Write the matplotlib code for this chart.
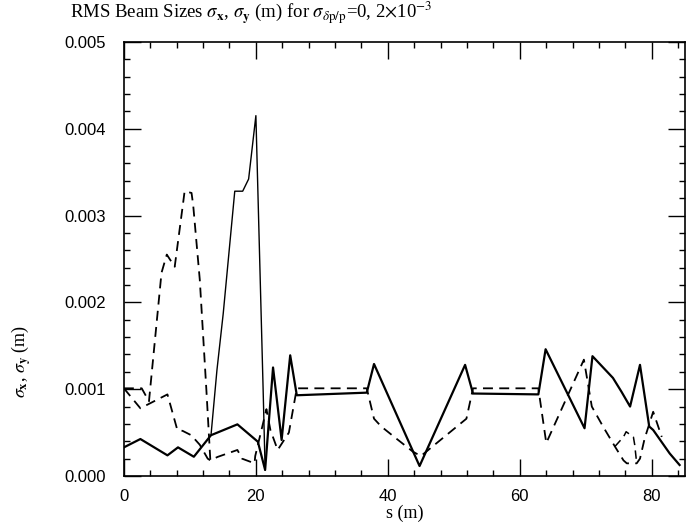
import matplotlib
matplotlib.use("Agg")
import matplotlib.pyplot as plt
from matplotlib.ticker import MultipleLocator, FormatStrFormatter

plt.rcParams['mathtext.fontset'] = 'stix'

# sigma_x (main solid curve)
sx_s = [0, 2.5, 6.6, 8.2, 10.6, 13.2, 17.2, 20.3, 21.4, 22.6, 23.9, 25.2, 26.2,
        36.8, 37.9, 44.8, 51.7, 52.9, 62.8, 63.9, 69.8, 71.0, 74.1, 75.4, 76.7,
        78.2, 79.6, 80.2, 82.7, 84.2]
sx_v = [0.00033, 0.000426, 0.000238, 0.00033, 0.000222, 0.00047, 0.000595, 0.000395,
        0.00007, 0.00125, 0.000415, 0.00139, 0.00093, 0.00096, 0.00129, 0.000115,
        0.00128, 0.00095, 0.00094, 0.00146, 0.00055, 0.00138, 0.00113, 0.00097,
        0.0008, 0.00128, 0.00057, 0.00053, 0.00026, 0.000127]

# sigma_x branch for the second energy spread (thin solid)
sx2_s = [13.2, 14.1, 15.05, 16.8, 18.0, 18.9, 20.0, 21.1, 21.4]
sx2_v = [0.00047, 0.00122, 0.00187, 0.00328, 0.00328, 0.00342, 0.00415, 0.00099, 0.00007]

# sigma_y (main dashed curve)
sy_s = [0, 2.5, 6.6, 8.1, 8.9, 10.2, 11.5, 12.7, 13.1, 14.2, 17.2, 17.9, 19.8, 19.9,
        21.6, 22.2, 23.3, 25.0, 26.2, 36.8, 37.9, 39.0, 41.3, 43.8, 45.0, 51.9, 52.9,
        62.8, 64.0, 69.7, 70.9, 72.6, 74.4, 75.7, 76.2, 77.7, 78.2, 78.9, 80.2, 81.5]
sy_v = [0.00101, 0.00078, 0.00094, 0.00053, 0.00052, 0.00047, 0.00036, 0.0002, 0.00018,
        0.00022, 0.0003, 0.0002, 0.000146, 0.00023, 0.00077, 0.00053, 0.0003, 0.0005,
        0.00101, 0.00101, 0.00066, 0.00057, 0.00043, 0.00028, 0.00023, 0.00066, 0.00101,
        0.00101, 0.00038, 0.00134, 0.0008, 0.00057, 0.00034, 0.00018, 0.000146, 0.000146,
        0.0002, 0.00043, 0.00074, 0.00045]

# sigma_y branches for the second energy spread
sy2a_s = [0, 2.7, 3.8, 4.3, 5.7, 6.5, 7.7, 9.0, 9.2, 10.25, 10.5, 11.5, 12.5, 13.1]
sy2a_v = [0.00101, 0.00101, 0.00086, 0.00125, 0.00234, 0.00255, 0.00241, 0.00316,
          0.00328, 0.00326, 0.00312, 0.00226, 0.00099, 0.00018]
sy2b_s = [74.4, 75.7, 76.1, 77.2, 77.4, 77.7]
sy2b_v = [0.00034, 0.00045, 0.00051, 0.00045, 0.00036, 0.000146]

x_ticks = [0, 20, 40, 60, 80]
y_ticks = [0.000, 0.001, 0.002, 0.003, 0.004, 0.005]

fig = plt.figure(figsize=(6.96, 5.25), dpi=100)
ax = fig.add_axes([0.178, 0.0933, 0.806, 0.827])

dash = (5.5, 3.5)
ax.plot(sx_s, sx_v, color='black', lw=1.6)
ax.plot(sx2_s, sx2_v, color='black', lw=1.0)
ax.plot(sy_s, sy_v, color='black', lw=1.3, dashes=dash)
ax.plot(sy2a_s, sy2a_v, color='black', lw=1.3, dashes=dash)
ax.plot(sy2b_s, sy2b_v, color='black', lw=1.1, dashes=dash)

ax.set_xlim(0, 85)
ax.set_ylim(0, 0.005)
ax.set_xticks(x_ticks)
ax.set_yticks(y_ticks)
ax.xaxis.set_minor_locator(MultipleLocator(4))
ax.yaxis.set_minor_locator(MultipleLocator(0.0002))
ax.yaxis.set_major_formatter(FormatStrFormatter('%.3f'))

ax.tick_params(which='both', direction='in', top=True, right=True, width=1.0)
ax.tick_params(which='major', length=12)
ax.tick_params(which='minor', length=4)
ax.tick_params(axis='y', which='major', pad=13)
ax.tick_params(axis='x', which='major', pad=9)
for lab in ax.get_xticklabels() + ax.get_yticklabels():
    lab.set_fontfamily('Liberation Sans')
    lab.set_fontsize(12)
for sp in ax.spines.values():
    sp.set_linewidth(1.2)

ax.set_xlabel('s (m)', fontfamily='Liberation Serif', fontsize=13, labelpad=1)
fig.text(0.03, 1 - 362 / 525, r'$\sigma_\mathbf{x}$, $\sigma_\mathbf{y}$ (m)',
         rotation=90, ha='center', va='center', fontfamily='Liberation Serif', fontsize=13)

fig.text(70 / 696, 1 - 13 / 525,
         r'RMS Beam Sizes $\sigma_\mathbf{x}$, $\sigma_\mathbf{y}$ (m) for $\sigma_{\delta\mathrm{p/p}}$=0, 2$\times$10$^{-3}$',
         ha='left', va='center', fontfamily='Liberation Serif', fontsize=13.5)

fig.savefig('out.png', dpi=100)
